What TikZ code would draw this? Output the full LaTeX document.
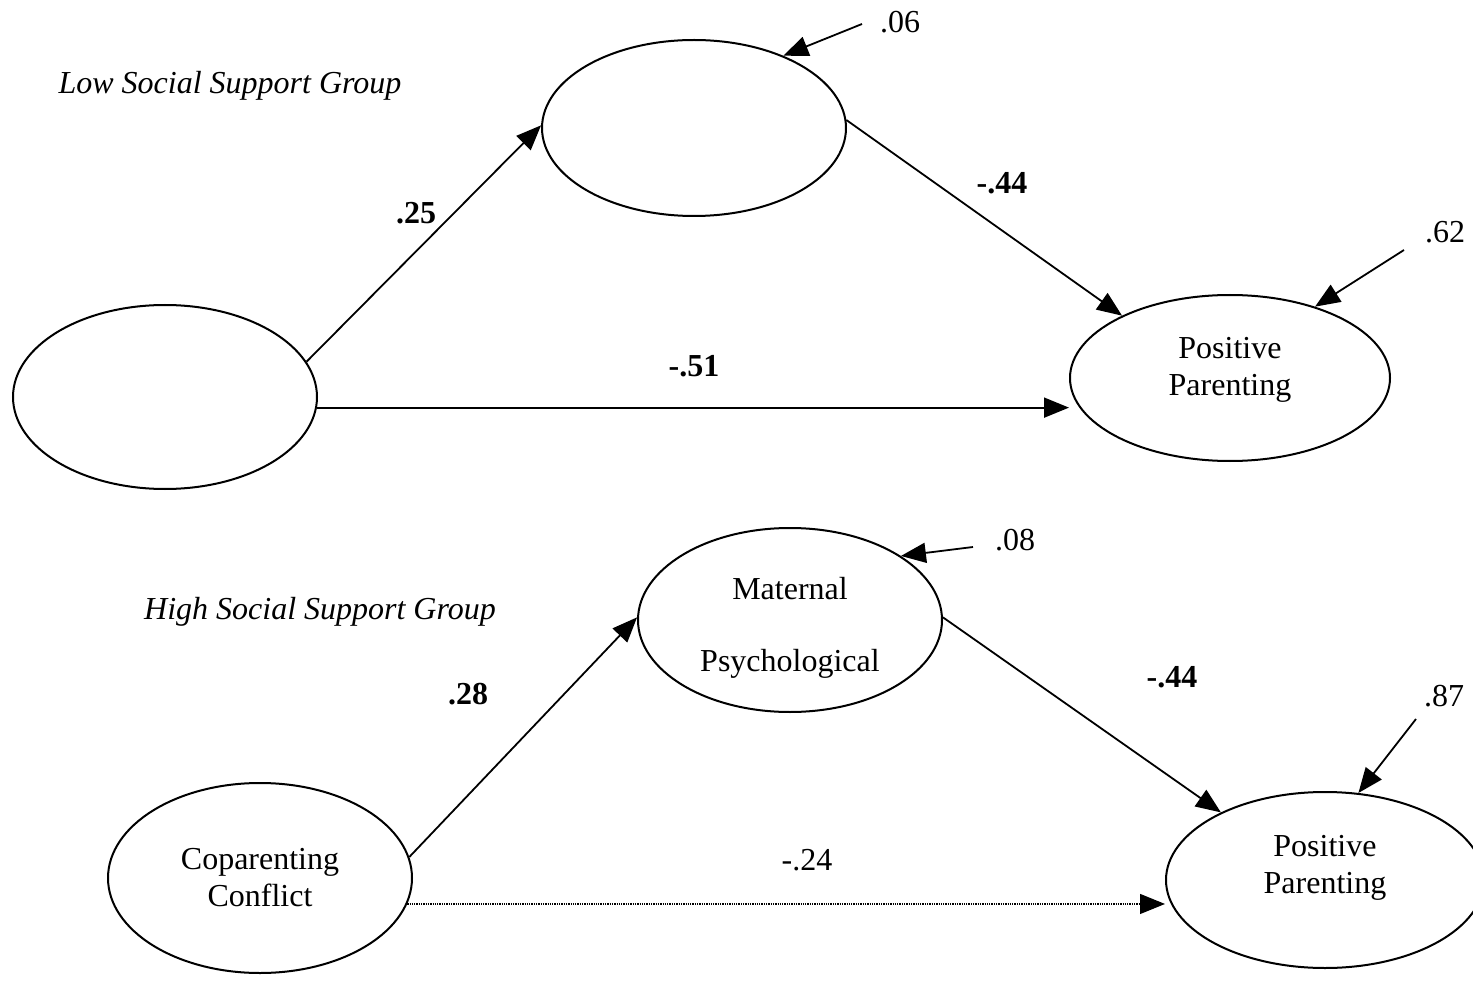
\documentclass[tikz,border=0pt]{standalone}
\usepackage{fontspec}
\setmainfont{Liberation Serif}
\usetikzlibrary{shapes.geometric,arrows.meta,calc}
\begin{document}
\begin{tikzpicture}[x=1pt,y=-1pt,
  every node/.style={font=\fontsize{32}{37}\selectfont},
  latent/.style={draw,ellipse,line width=2pt,inner sep=0pt,align=center},
  path/.style={line width=1.8pt,-{Triangle[length=25pt,width=20pt]}},
  dotpath/.style={line width=1.3pt,densely dotted,-{Triangle[length=25pt,width=20pt]}},
  coef/.style={font=\fontsize{32}{37}\selectfont\bfseries},
  plain/.style={font=\fontsize{32}{37}\selectfont},
  grp/.style={font=\fontsize{32}{37}\selectfont\itshape}]
\useasboundingbox (0,0) rectangle (1473,984);
\fill[white] (0,0) rectangle (1473,984);

% ---- Low social support group ----
\node[grp] (lowlab) at (230,86) {Low Social Support Group};
\node[latent,minimum width=304pt,minimum height=184pt] (A) at (165,397) {};
\node[latent,minimum width=304pt,minimum height=176pt] (B) at (694,128) {};
\node[latent,minimum width=320pt,minimum height=166pt] (C) at (1230,378) {Positive\\Parenting\rule[-23pt]{0pt}{1pt}};

\draw[path] (A.14) -- (B.179);
\draw[path] (B.3) -- (C.150);
\draw[path] (A.-4) -- (A.-4 -| C.west);

\node[coef] (l25) at (416,213) {.25};
\node[coef] (l44a) at (1002,183) {-.44};
\node[coef] (l51) at (694,366) {-.51};

\coordinate (e1) at (862,24);
\coordinate (e2) at (1404,250);
\draw[path] (e1) -- (B.39);
\draw[path] (e2) -- (C.40);
\node[plain] (r06) at (900,22) {.06};
\node[plain] (r62) at (1445,232) {.62};

% ---- High social support group ----
\node[grp] (highlab) at (320,612) {High Social Support Group};
\node[latent,minimum width=304pt,minimum height=190pt] (D) at (260,878) {Coparenting\\Conflict};
\node[latent,minimum width=304pt,minimum height=184pt] (E) at (790,620) {\rule{0pt}{38pt}Maternal\\[35pt]Psychological};
\node[latent,minimum width=318pt,minimum height=176pt] (F) at (1325,880) {Positive\\Parenting\rule[-31pt]{0pt}{1pt}};

\draw[path] (D.8) -- (E.179);
\draw[path] (E.1) -- (F.147);
\draw[dotpath] (D.-10) -- (D.-10 -| F.west);

\node[coef] (l28) at (468,694) {.28};
\node[coef] (l44b) at (1172,677) {-.44};
\node[plain] (l24) at (807,860) {-.24};

\coordinate (e3) at (973,547);
\coordinate (e4) at (1416,719);
\draw[path] (e3) -- (E.30);
\draw[path] (e4) -- (F.69);
\node[plain] (r08) at (1015,540) {.08};
\node[plain] (r87) at (1444,696) {.87};
\end{tikzpicture}
\end{document}
